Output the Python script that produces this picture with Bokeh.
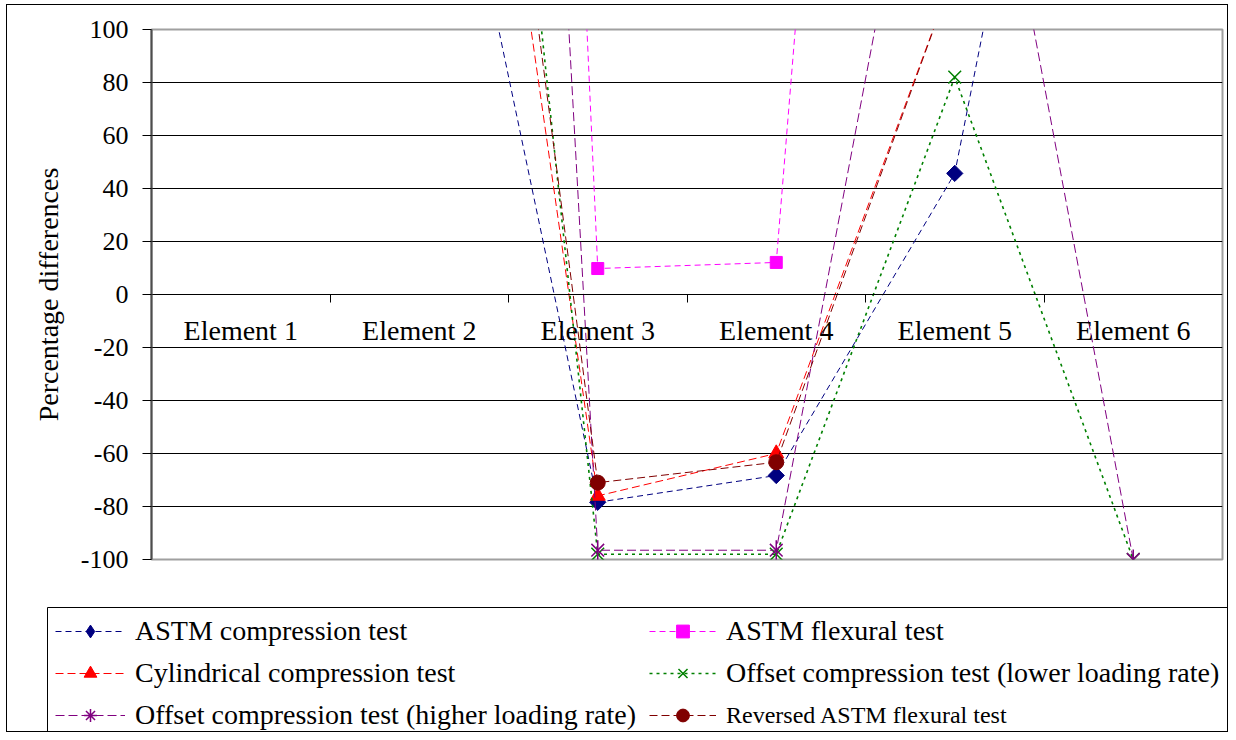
import math
from bokeh.plotting import figure
from bokeh.layouts import column
from bokeh.models import (FactorRange, Range1d, FixedTicker, CategoricalAxis, Legend,
                          LegendItem)
from bokeh.embed import file_html
from bokeh.resources import INLINE

nan = float("nan")

categories = ["Element 1", "Element 2", "Element 3", "Element 4", "Element 5", "Element 6"]

astm_compression = [nan, 243, -78.4, -68.3, 45.7, 385]
astm_flexural = [nan, 1500, 9.8, 12.1, 838, nan]
cylindrical_compression = [nan, 395, -76, -60, 122, nan]
offset_lower = [nan, 530, -98, -98, 82, -100]
offset_higher = [nan, 1117, -96.5, -96.5, 259, -100]
reversed_flexural = [nan, 444, -71, -63.3, 122, nan]

y_ticks = [-100, -80, -60, -40, -20, 0, 20, 40, 60, 80, 100]
grid_ticks = [-80, -60, -40, -20, 20, 40, 60, 80]

labels = ["ASTM compression test", "ASTM flexural test", "Cylindrical compression test",
          "Offset compression test (lower loading rate)",
          "Offset compression test (higher loading rate)", "Reversed ASTM flexural test"]

FONT = "Liberation Serif"
W = 1228
H_MAIN, H_LEG = 606, 126

# outer chart border drawn as CSS background lines behind the transparent canvas borders
frame_css = {
    "background-image": ", ".join(["linear-gradient(#000, #000)"] * 4),
    "background-position": "6px 4px, 6px 4px, 1227px 4px, 6px 731px",
    "background-size": "1px 728px, 1222px 1px, 1px 728px, 1222px 1px",
    "background-repeat": "no-repeat",
    "background-color": "white",
}

def no_align(fig):
    try:
        fig.frame_align = False
    except Exception:
        pass

p = figure(width=W, height=H_MAIN, x_range=FactorRange(factors=categories, range_padding=0),
           y_range=Range1d(-100, 100), output_backend="svg", toolbar_location=None,
           min_border_left=151, min_border_right=6, min_border_top=29, min_border_bottom=47)
no_align(p)

# a second categorical range whose factor centres fall on the category boundaries
boundary_factors = ["b%d" % i for i in range(1, len(categories))]
p.extra_x_ranges = {"bounds": FactorRange(factors=boundary_factors, range_padding=0.5,
                                          range_padding_units="absolute")}

p.background_fill_color = "white"
p.border_fill_color = None
p.outline_line_color = "#a0a0a0"
p.outline_line_width = 2

# grid
p.xgrid.visible = False
p.ygrid.ticker = FixedTicker(ticks=grid_ticks)
p.ygrid.grid_line_color = "black"
p.ygrid.grid_line_width = 1

# y axis
ya = p.yaxis[0]
ya.ticker = FixedTicker(ticks=y_ticks, minor_ticks=[])
ya.major_label_overrides = {v: str(v) for v in y_ticks}
ya.axis_line_color = "#4d4d4d"
ya.axis_line_width = 2
ya.major_tick_out = 9
ya.major_tick_in = 0
ya.major_tick_line_color = "black"
ya.minor_tick_line_color = None
ya.major_label_text_font = FONT
ya.major_label_text_font_size = "26px"
ya.major_label_text_color = "black"
ya.major_label_standoff = 14
ya.axis_label = "Percentage differences"
ya.axis_label_text_font = FONT
ya.axis_label_text_font_size = "28px"
ya.axis_label_text_font_style = "normal"
ya.axis_label_text_color = "black"
ya.axis_label_standoff = 14

# categorical x axis at y = 0
xa = p.xaxis[0]
xa.fixed_location = 0
xa.axis_line_color = "black"
xa.axis_line_width = 1
xa.major_tick_out = 0
xa.major_tick_in = 0
xa.major_label_text_font = FONT
xa.major_label_text_font_size = "28px"
xa.major_label_text_color = "black"
xa.major_label_standoff = 20

# boundary ticks between categories
ba = CategoricalAxis(x_range_name="bounds", fixed_location=0, axis_line_color=None,
                     major_tick_out=8, major_tick_in=0, major_tick_line_color="black",
                     major_label_text_alpha=0, major_label_text_font_size="1px")
p.add_layout(ba, "below")

# series styles: (values, colour, dash, width, plot markers, legend markers)
series = [
    (astm_compression, "#000080", "6 4", 1,
     [dict(marker="square", size=11.5, angle=math.pi / 4)], [dict(marker="diamond")]),
    (astm_flexural, "#FF00FF", "6 4", 1,
     [dict(marker="square", size=12)], [dict(marker="square")]),
    (cylindrical_compression, "#FF0000", "8 4", 1,
     [dict(marker="triangle", size=15)], [dict(marker="triangle")]),
    (offset_lower, "#008000", "3 4", 1.6,
     [dict(marker="x", size=18, line_width=1.5)], [dict(marker="x", line_width=1.5)]),
    (offset_higher, "#800080", "9 4", 1,
     [dict(marker="x", size=18, line_width=1.5),
      dict(marker="dash", size=20, angle=math.pi / 2, line_width=1.5)],
     [dict(marker="asterisk", line_width=1.5)]),
    (reversed_flexural, "#800000", "8 4", 1,
     [dict(marker="circle", size=15)], [dict(marker="circle")]),
]

for vals, color, dash, lw, markers, _ in series:
    p.line(categories, vals, line_color=color, line_dash=dash, line_width=lw)
    for m in markers:
        p.scatter(categories, vals, fill_color=color, line_color=color, **m)

# legend panel: its frame is the legend box; its copies of the series lie outside its y range
q = figure(width=W, height=H_LEG, output_backend="svg", toolbar_location=None,
           x_axis_location=None, y_axis_location=None,
           x_range=FactorRange(factors=categories, range_padding=0), y_range=Range1d(5000, 5001),
           min_border_left=47, min_border_right=1, min_border_top=1, min_border_bottom=1)
no_align(q)
q.xgrid.visible = False
q.ygrid.visible = False
q.background_fill_color = None
q.border_fill_color = None
q.outline_line_color = "black"
q.outline_line_width = 1

items = []
for vals, color, dash, lw, _, leg_markers in series:
    rs = [q.line(categories, vals, line_color=color, line_dash=dash, line_width=lw)]
    for m in leg_markers:
        rs.append(q.scatter(categories, vals, fill_color=color, line_color=color, **m))
    items.append(rs)

def make_legend(idx, loc, fsize, gw):
    leg = Legend(items=[LegendItem(label=labels[i], renderers=items[i]) for i in idx],
                 location=loc, orientation="vertical", glyph_width=gw, glyph_height=32,
                 label_height=32, label_standoff=10, spacing=10, padding=0, margin=0,
                 border_line_color=None, background_fill_alpha=0,
                 label_text_font=FONT, label_text_font_size=fsize, label_text_color="black")
    q.add_layout(leg)

make_legend([0, 2, 4], (8, 0), "28px", 70)
make_legend([1, 3], (602, 42), "28px", 67)
make_legend([5], (602, 0), "24px", 67)

layout = column(p, q, spacing=0, styles=frame_css)

open("out.html", "w").write(file_html(layout, INLINE))
